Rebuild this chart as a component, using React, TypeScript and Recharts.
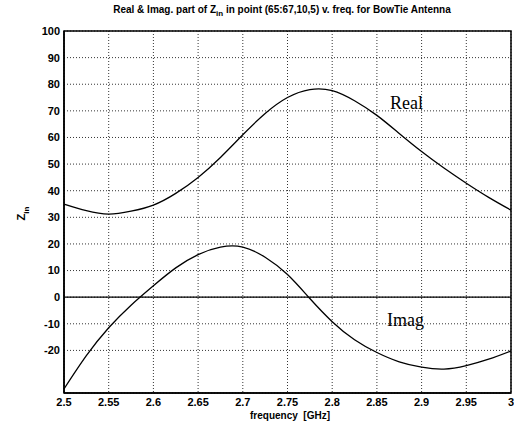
import React from 'react';
import { LineChart, Line, XAxis, YAxis, CartesianGrid, ReferenceLine, ReferenceArea } from 'recharts';

const freq = [2.5, 2.525, 2.55, 2.575, 2.6, 2.625, 2.65, 2.675, 2.7, 2.725, 2.75, 2.775, 2.8, 2.825, 2.85, 2.875, 2.9, 2.925, 2.95, 2.975, 3.0];
const realPart = [35, 32.5, 31.2, 32.3, 34.6, 39, 45, 52.5, 61, 69, 75, 78, 77.6, 73.8, 68.3, 61.5, 54.7, 48.5, 42.8, 37.5, 32.7];
const imagPart = [-34.5, -22, -11.5, -3, 4.3, 11, 16, 18.8, 18.8, 15, 8.5, -0.5, -9.2, -16, -20.8, -24.3, -26.3, -27, -25.7, -23.3, -20.2];
const xTicks = [2.5, 2.55, 2.6, 2.65, 2.7, 2.75, 2.8, 2.85, 2.9, 2.95, 3];
const yTicks = [-20, -10, 0, 10, 20, 30, 40, 50, 60, 70, 80, 90, 100];

const data = freq.map((f, i) => ({ f, re: realPart[i], im: imagPart[i] }));

const tickStyle = { fontFamily: '"Liberation Sans", Arial, sans-serif', fontSize: 11, fontWeight: 700, fill: '#000' };

export default function App() {
  return (
    <div style={{ position: 'absolute', left: 0, top: 0, width: 514, height: 428, background: '#fff' }}>
      <LineChart width={514} height={428} data={data} margin={{ top: 31, right: 3, bottom: 15, left: 24 }}>
        <CartesianGrid stroke="#000" strokeDasharray="1 2" strokeWidth={0.8} />
        <XAxis
          dataKey="f"
          type="number"
          domain={[2.5, 3]}
          ticks={xTicks}
          tickFormatter={(v: number) => String(v)}
          tick={tickStyle}
          tickLine={false}
          axisLine={{ stroke: '#000', strokeWidth: 1.5 }}
          height={20}
          tickSize={3}
          tickMargin={2}
          interval={0}
        />
        <YAxis
          type="number"
          domain={[-36, 100]}
          ticks={yTicks}
          tick={tickStyle}
          tickLine={false}
          axisLine={{ stroke: '#000', strokeWidth: 1.5 }}
          width={40}
          tickSize={3}
          tickMargin={1}
          interval={0}
          allowDataOverflow
        />
        <ReferenceArea x1={2.5} x2={3} y1={-36} y2={100} fill="none" stroke="#000" strokeWidth={1.5} ifOverflow="extendDomain" />
        <ReferenceLine y={0} stroke="#000" strokeWidth={1.3} />
        <Line type="natural" dataKey="re" stroke="#000" strokeWidth={1.3} dot={false} isAnimationActive={false} />
        <Line type="natural" dataKey="im" stroke="#000" strokeWidth={1.3} dot={false} isAnimationActive={false} />
      </LineChart>
      <div style={{ position: 'absolute', left: 0, width: 514, top: 4, textAlign: 'center', fontFamily: '"Liberation Sans", Arial, sans-serif', fontSize: 10, fontWeight: 700, paddingLeft: 50, boxSizing: 'border-box' }}>
        Real &amp; Imag. part of Z<sub style={{ fontSize: 8 }}>in</sub> in point (65:67,10,5) v. freq. for BowTie Antenna
      </div>
      <div style={{ position: 'absolute', left: 390, top: 93, fontFamily: '"Liberation Serif", "Times New Roman", serif', fontSize: 18 }}>Real</div>
      <div style={{ position: 'absolute', left: 387, top: 310, fontFamily: '"Liberation Serif", "Times New Roman", serif', fontSize: 18 }}>Imag</div>
      <div style={{ position: 'absolute', left: 0, width: 514, top: 410, paddingLeft: 66, boxSizing: 'border-box', textAlign: 'center', fontFamily: '"Liberation Sans", Arial, sans-serif', fontSize: 10, fontWeight: 700 }}>
        frequency&nbsp;&nbsp;[GHz]
      </div>
      <div style={{ position: 'absolute', left: 16, top: 206, transform: 'rotate(-90deg)', transformOrigin: 'center', fontFamily: '"Liberation Sans", Arial, sans-serif', fontSize: 11, fontWeight: 700 }}>
        Z<sub style={{ fontSize: 8 }}>in</sub>
      </div>
    </div>
  );
}
